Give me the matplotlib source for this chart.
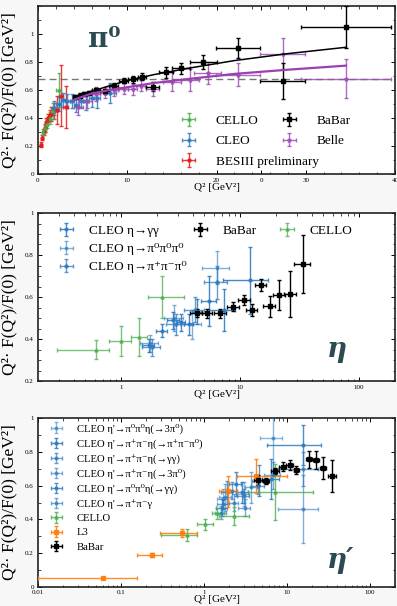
import numpy as np
import matplotlib
matplotlib.use("Agg")
import matplotlib.pyplot as plt
from matplotlib.ticker import MultipleLocator, LogLocator, NullFormatter, FixedLocator, FixedFormatter

plt.rcParams['font.family'] = ['Liberation Serif', 'DejaVu Serif']
plt.rcParams['axes.unicode_minus'] = False

# ---------------- Panel 1 (pi0) data ----------------
besiii_q2 = [0.35, 0.5, 0.65, 0.8, 0.95, 1.1, 1.3, 1.5, 1.75, 2.1, 2.6, 3.1]
besiii_v = [0.21, 0.26, 0.30, 0.33, 0.37, 0.40, 0.42, 0.43, 0.45, 0.46, 0.56, 0.48]
besiii_ye = [0.02, 0.02, 0.02, 0.03, 0.03, 0.03, 0.04, 0.05, 0.06, 0.10, 0.22, 0.15]
besiii_xe = [0.07, 0.07, 0.07, 0.07, 0.07, 0.08, 0.1, 0.1, 0.12, 0.15, 0.2, 0.25]

cello1_q2 = [0.55, 0.8, 1.05, 1.35, 1.7, 2.3]
cello1_v = [0.30, 0.33, 0.36, 0.40, 0.45, 0.60]
cello1_ye = [0.02, 0.02, 0.03, 0.04, 0.06, 0.12]
cello1_xe = [0.1, 0.12, 0.12, 0.15, 0.2, 0.3]

cleo1_q2 = [1.8, 2.3, 2.8, 3.3, 3.8, 4.3, 4.8, 5.4, 6.1, 6.6, 8.1]
cleo1_v = [0.47, 0.50, 0.53, 0.52, 0.52, 0.49, 0.52, 0.52, 0.54, 0.54, 0.58]
cleo1_ye = [0.05, 0.05, 0.05, 0.05, 0.05, 0.05, 0.05, 0.06, 0.06, 0.07, 0.07]
cleo1_xe = [0.25, 0.25, 0.25, 0.25, 0.25, 0.25, 0.25, 0.3, 0.35, 0.35, 0.6]

babar1_q2 = [4.2, 4.7, 5.2, 5.7, 6.5, 7.5, 8.5, 9.6, 10.6, 11.65, 12.85, 14.35, 16.0, 18.5, 22.4, 27.4, 34.5]
babar1_v = [0.55, 0.56, 0.57, 0.58, 0.60, 0.59, 0.63, 0.667, 0.676, 0.695, 0.624, 0.726, 0.755, 0.80, 0.90, 0.664, 1.048]
babar1_ye = [0.015, 0.015, 0.015, 0.015, 0.015, 0.02, 0.02, 0.02, 0.025, 0.025, 0.03, 0.04, 0.04, 0.05, 0.07, 0.13, 0.15]
babar1_xe = [0.25, 0.25, 0.25, 0.25, 0.5, 0.5, 0.5, 0.5, 0.5, 0.5, 0.75, 0.75, 1.0, 1.5, 2.5, 2.5, 5.0]

belle_q2 = [4.5, 5.5, 6.5, 7.5, 8.5, 9.6, 10.6, 11.5, 12.85, 15.0, 17.0, 19.0, 22.4, 27.4, 34.5]
belle_v = [0.48, 0.52, 0.57, 0.58, 0.60, 0.61, 0.605, 0.63, 0.61, 0.66, 0.67, 0.72, 0.71, 0.86, 0.68]
belle_ye = [0.06, 0.05, 0.05, 0.04, 0.04, 0.04, 0.04, 0.04, 0.05, 0.07, 0.08, 0.08, 0.08, 0.11, 0.14]
belle_xe = [0.5, 0.5, 0.5, 0.5, 0.5, 0.5, 0.5, 0.5, 0.75, 1.0, 1.0, 1.5, 2.5, 2.5, 5.0]

babar_fit_q2 = [4.0, 6.0, 8.0, 10.0, 13.0, 17.0, 22.0, 28.0, 34.5]
babar_fit_v = [0.53, 0.59, 0.63, 0.667, 0.71, 0.757, 0.81, 0.86, 0.905]
belle_fit_q2 = [4.0, 6.0, 8.0, 10.0, 13.0, 17.0, 22.0, 28.0, 34.5]
belle_fit_v = [0.53, 0.575, 0.60, 0.62, 0.65, 0.68, 0.715, 0.745, 0.774]
asym_v = 0.68

# ---------------- Panel 2 (eta) data ----------------
cello2_q2 = [0.62, 1.0, 1.4, 2.2]
cello2_v = [0.35, 0.39, 0.41, 0.60]
cello2_ye = [0.045, 0.07, 0.09, 0.10]
cello2_xlo = [0.33, 0.21, 0.2, 0.52]
cello2_xhi = [0.17, 0.2, 0.24, 1.15]

cleo2a_q2 = [1.7, 2.2, 2.75, 3.2, 3.7, 4.3, 5.5, 7.3, 12.2]
cleo2a_v = [0.37, 0.44, 0.49, 0.48, 0.47, 0.53, 0.58, 0.54, 0.68]
cleo2a_ye = [0.03, 0.03, 0.04, 0.04, 0.05, 0.06, 0.12, 0.10, 0.16]
cleo2a_xe = [0.2, 0.25, 0.3, 0.25, 0.35, 0.4, 0.8, 1.8, 5.0]

cleo2b_q2 = [1.75, 2.8, 3.9, 6.4]
cleo2b_v = [0.38, 0.50, 0.47, 0.74]
cleo2b_ye = [0.04, 0.06, 0.07, 0.08]
cleo2b_xe = [0.3, 0.5, 0.8, 1.6]

cleo2c_q2 = [1.8, 2.9, 4.2, 6.4]
cleo2c_v = [0.36, 0.47, 0.54, 0.67]
cleo2c_ye = [0.04, 0.05, 0.06, 0.08]
cleo2c_xe = [0.3, 0.5, 0.8, 1.4]

babar2_q2 = [4.3, 5.3, 6.8, 8.7, 10.8, 12.6, 14.9, 17.7, 21.4, 26.4, 33.5]
babar2_v = [0.525, 0.522, 0.522, 0.554, 0.586, 0.538, 0.657, 0.557, 0.61, 0.613, 0.757]
babar2_ye = [0.02, 0.02, 0.02, 0.02, 0.025, 0.03, 0.03, 0.05, 0.07, 0.11, 0.14]
babar2_xe = [0.5, 0.5, 0.8, 1.0, 1.2, 1.3, 1.5, 2.0, 2.5, 3.0, 5.0]

# ---------------- Panel 3 (eta') data ----------------
l3_q2 = [0.061, 0.234, 0.54, 1.93, 4.23]
l3_v = [0.055, 0.189, 0.318, 0.566, 0.659]
l3_ye = [0.005, 0.012, 0.025, 0.09, 0.10]
l3_xlo = [0.051, 0.079, 0.245, 0.40, 1.71]
l3_xhi = [0.094, 0.076, 0.28, 0.55, 5.7]

cello3_q2 = [0.62, 1.03, 1.45, 2.3, 7.2]
cello3_v = [0.31, 0.37, 0.435, 0.42, 0.56]
cello3_ye = [0.035, 0.03, 0.035, 0.055, 0.165]
cello3_xlo = [0.32, 0.21, 0.2, 0.8, 3.8]
cello3_xhi = [0.2, 0.27, 0.3, 1.2, 13.6]

babar3_q2 = [4.5, 5.6, 7.2, 8.9, 10.8, 13.0, 18.4, 22.4, 27.4, 35.0]
babar3_v = [0.633, 0.627, 0.686, 0.712, 0.722, 0.692, 0.757, 0.751, 0.706, 0.657]
babar3_ye = [0.03, 0.02, 0.02, 0.025, 0.03, 0.025, 0.05, 0.055, 0.065, 0.095]
babar3_xe = [0.5, 0.5, 0.7, 0.8, 1.0, 1.0, 1.4, 1.6, 2.5, 3.5]

cleo3_labels = ["CLEO η'→π⁰π⁰η(→3π⁰)", "CLEO η'→π⁺π⁻η(→π⁺π⁻π⁰)", "CLEO η'→π⁺π⁻η(→γγ)",
                "CLEO η'→π⁺π⁻η(→3π⁰)", "CLEO η'→π⁰π⁰η(→γγ)", "CLEO η'→π⁺π⁻γ"]
cleo3_q2 = [[1.7, 3.0, 6.7], [1.65, 2.9, 6.5, 15.7], [1.7, 2.2, 3.0, 4.5, 15.7],
            [1.8, 3.7, 15.7], [1.9, 2.4, 4.6], [1.6, 2.3, 3.1, 6.8]]
cleo3_v = [[0.52, 0.55, 0.88], [0.47, 0.56, 0.64, 0.84], [0.49, 0.57, 0.54, 0.60, 0.70],
           [0.53, 0.59, 0.46], [0.56, 0.61, 0.63], [0.44, 0.50, 0.47, 0.66]]
cleo3_ye = [[0.06, 0.07, 0.22], [0.05, 0.06, 0.12, 0.12], [0.03, 0.05, 0.04, 0.05, 0.10],
            [0.08, 0.09, 0.20], [0.07, 0.07, 0.09], [0.04, 0.05, 0.05, 0.08]]
cleo3_xe = [[0.25, 0.5, 2.0], [0.25, 0.5, 1.5, 10.0], [0.25, 0.3, 0.5, 0.8, 8.0],
            [0.3, 0.6, 8.0], [0.3, 0.4, 0.8], [0.25, 0.3, 0.5, 1.5]]

# ---------------- style ----------------
C_CELLO = '#4cae4c'
C_CLEO = '#2f7bbf'
C_BES = '#e8191c'
C_BELLE = '#a050b5'
C_L3 = '#ff7f0e'
C_TXT = '#2b4a52'
BG = '#f7f7f7'

W, H = 397, 606
fig = plt.figure(figsize=(W / 100, H / 100), dpi=100, facecolor=BG)

def ax_rect(l, t, r, b):
    return [l / W, 1 - b / H, (r - l) / W, (b - t) / H]

ax1 = fig.add_axes(ax_rect(38, 6, 395, 174))
ax2 = fig.add_axes(ax_rect(38, 213, 395, 381))
ax3 = fig.add_axes(ax_rect(38, 418, 395, 587))

def eb(ax, x, y, ye, xe, color, marker, ms, alpha=0.85, label=None, lw=1.0, mfc=None):
    return ax.errorbar(x, y, yerr=ye, xerr=xe, fmt=marker, color=color, ms=ms,
                       elinewidth=lw, capsize=1.6, capthick=lw, alpha=alpha,
                       label=label, mfc=mfc if mfc else color, mec=color, zorder=3)

def style(ax):
    ax.set_facecolor('white')
    for s in ax.spines.values():
        s.set_linewidth(1.2)
        s.set_color('#222222')
    ax.tick_params(which='both', direction='in', top=True, right=True, labelsize=5, pad=3)
    ax.tick_params(which='major', length=3, width=0.7)
    ax.tick_params(which='minor', length=1.8, width=0.5)
    ax.set_ylabel("Q²· F(Q²)/F(0) [GeV²]", fontsize=12.5)
    ax.yaxis.set_label_coords(-0.058, 0.5)
    ax.set_xlabel("Q² [GeV²]", fontsize=8, labelpad=-2)

# ---------------- Panel 1 ----------------
ax = ax1
style(ax)
ax.axhline(asym_v, color='#777777', lw=1.0, ls=(0, (5, 3)), zorder=2)
eb(ax, besiii_q2, besiii_v, besiii_ye, besiii_xe, C_BES, 'o', 2.2, label='BESIII preliminary')
eb(ax, cello1_q2, cello1_v, cello1_ye, cello1_xe, C_CELLO, '^', 2.2, label='CELLO')
eb(ax, cleo1_q2, cleo1_v, cleo1_ye, cleo1_xe, C_CLEO, 'o', 2.0, label='CLEO')
eb(ax, belle_q2, belle_v, belle_ye, belle_xe, C_BELLE, '*', 3.0, label='Belle')
eb(ax, babar1_q2, babar1_v, babar1_ye, babar1_xe, 'black', 's', 2.2, alpha=1.0, label='BaBar')
ax.plot(babar_fit_q2, babar_fit_v, color='black', lw=1.1, zorder=4)
ax.plot(belle_fit_q2, belle_fit_v, color='#9b3fb3', lw=1.6, zorder=4)
ax.set_xlim(0, 40)
ax.set_ylim(0, 1.2)
ax.xaxis.set_major_locator(FixedLocator([0, 10, 20, 25, 30, 40]))
ax.xaxis.set_major_formatter(FixedFormatter(['0', '10', '20', '0', '30', '40']))
ax.xaxis.set_minor_locator(MultipleLocator(2))
ax.yaxis.set_major_locator(FixedLocator([0, 0.2, 0.4, 0.6, 0.8, 1.0]))
ax.yaxis.set_major_formatter(FixedFormatter(['0', '0.2', '0.4', '0.6', '0.8', '1']))
ax.yaxis.set_minor_locator(MultipleLocator(0.1))
ax.xaxis.set_label_coords(0.5, -0.055)
ax.text(0.14, 0.88, 'π⁰', transform=ax.transAxes, fontsize=20, fontweight='bold',
        color=C_TXT, ha='left', va='top', family=['DejaVu Serif'])
h, l = ax.get_legend_handles_labels()
hd = dict(zip(l, h))
col1 = ['CELLO', 'CLEO', 'BESIII preliminary']
col2 = ['BaBar', 'Belle']
leg_kw = dict(frameon=False, fontsize=9.5, handlelength=1.4, handletextpad=1.35, labelspacing=0.62)
la = ax.legend([hd[k] for k in col1], col1, loc='upper left', bbox_to_anchor=(0.363, 0.424), **leg_kw)
ax.add_artist(la)
ax.legend([hd[k] for k in col2], col2, loc='upper left', bbox_to_anchor=(0.645, 0.424), **leg_kw)

# ---------------- Panel 2 ----------------
ax = ax2
style(ax)
ax.set_xscale('log')
h_ce = eb(ax, cello2_q2, cello2_v, cello2_ye, [cello2_xlo, cello2_xhi], C_CELLO, '^', 2.2, alpha=0.75)
h_a = eb(ax, cleo2a_q2, cleo2a_v, cleo2a_ye, cleo2a_xe, C_CLEO, 'o', 2.0, alpha=0.9)
h_b = eb(ax, cleo2b_q2, cleo2b_v, cleo2b_ye, cleo2b_xe, C_CLEO, 's', 2.0, alpha=0.6)
h_c = eb(ax, cleo2c_q2, cleo2c_v, cleo2c_ye, cleo2c_xe, C_CLEO, 'D', 2.0, alpha=0.75)
h_bb = eb(ax, babar2_q2, babar2_v, babar2_ye, babar2_xe, 'black', 's', 2.6, alpha=1.0)
ax.set_xlim(0.2, 200)
ax.set_ylim(0.2, 1.0)
ax.xaxis.set_major_locator(FixedLocator([1, 10, 100]))
ax.xaxis.set_major_formatter(FixedFormatter(['1', '10', '100']))
ax.xaxis.set_minor_locator(LogLocator(base=10, subs=np.arange(2, 10)))
ax.xaxis.set_minor_formatter(NullFormatter())
ax.yaxis.set_major_locator(FixedLocator([0.2, 0.4, 0.6, 0.8, 1.0]))
ax.yaxis.set_major_formatter(FixedFormatter(['0.2', '0.4', '0.6', '0.8', '1']))
ax.yaxis.set_minor_locator(MultipleLocator(0.05))
ax.xaxis.set_label_coords(0.5, -0.055)
ax.text(0.81, 0.19, 'η', transform=ax.transAxes, fontsize=20, fontstyle='italic',
        fontweight='bold', color=C_TXT, ha='left', va='center', family=['DejaVu Serif'])
lg1 = ax.legend([h_a, h_b, h_c], ['CLEO η→γγ', 'CLEO η→π⁰π⁰π⁰', 'CLEO η→π⁺π⁻π⁰'],
                loc='upper left', bbox_to_anchor=(0.02, 1.0), frameon=False, fontsize=9.5,
                handlelength=1.4, handletextpad=1.0, labelspacing=0.45)
ax.add_artist(lg1)
ax.legend([h_bb, h_ce], ['BaBar', 'CELLO'], loc='upper left', bbox_to_anchor=(0.395, 1.0),
          ncol=2, frameon=False, fontsize=9.5, handlelength=1.4, handletextpad=1.0,
          columnspacing=1.6)

# ---------------- Panel 3 ----------------
ax = ax3
style(ax)
ax.set_xscale('log')
alphas = [0.55, 0.85, 0.7, 0.6, 0.8, 0.65]
hs3 = []
for i in range(6):
    hs3.append(eb(ax, cleo3_q2[i], cleo3_v[i], cleo3_ye[i], cleo3_xe[i], C_CLEO, 'o', 2.0, alpha=alphas[i]))
h_c3 = eb(ax, cello3_q2, cello3_v, cello3_ye, [cello3_xlo, cello3_xhi], C_CELLO, '^', 2.2, alpha=0.8)
h_l3 = eb(ax, l3_q2, l3_v, l3_ye, [l3_xlo, l3_xhi], C_L3, 's', 2.4, alpha=0.9)
h_b3 = eb(ax, babar3_q2, babar3_v, babar3_ye, babar3_xe, 'black', 's', 2.6, alpha=1.0)
ax.set_xlim(0.01, 200)
ax.set_ylim(0, 1.0)
ax.xaxis.set_major_locator(FixedLocator([0.01, 0.1, 1, 10, 100]))
ax.xaxis.set_major_formatter(FixedFormatter(['0.01', '0.1', '1', '10', '100']))
ax.xaxis.set_minor_locator(LogLocator(base=10, subs=np.arange(2, 10)))
ax.xaxis.set_minor_formatter(NullFormatter())
ax.yaxis.set_major_locator(FixedLocator([0, 0.2, 0.4, 0.6, 0.8, 1.0]))
ax.yaxis.set_major_formatter(FixedFormatter(['0', '0.2', '0.4', '0.6', '0.8', '1']))
ax.yaxis.set_minor_locator(MultipleLocator(0.1))
ax.tick_params(axis='x', pad=2)
ax.xaxis.set_label_coords(0.5, -0.05)
ax.text(0.81, 0.155, "η′", transform=ax.transAxes, fontsize=20, fontstyle='italic',
        fontweight='bold', color=C_TXT, ha='left', va='center', family=['DejaVu Serif'])
ax.legend(hs3 + [h_c3, h_l3, h_b3], cleo3_labels + ['CELLO', 'L3', 'BaBar'],
          loc='upper left', bbox_to_anchor=(0.003, 1.024), frameon=False, fontsize=7.7,
          handlelength=1.4, handletextpad=1.2, labelspacing=0.45)

fig.savefig('out.png', dpi=100, facecolor=BG)
